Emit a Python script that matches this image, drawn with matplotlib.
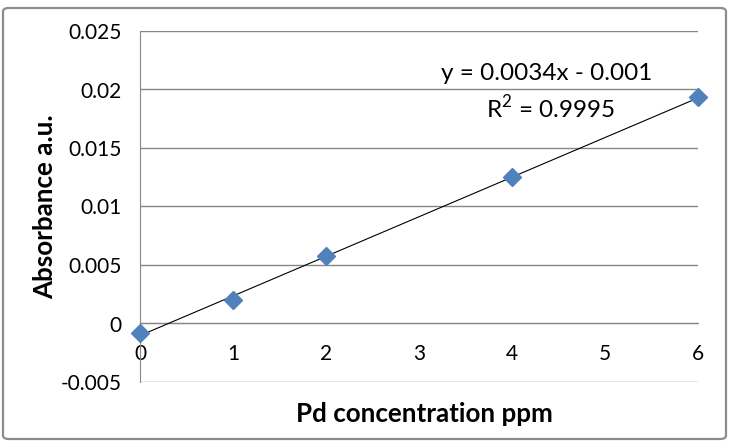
import matplotlib
matplotlib.use("Agg")
import matplotlib.pyplot as plt
from matplotlib.patches import FancyBboxPatch
import numpy as np

conc = [0, 1, 2, 4, 6]
absorb = [-0.00077, 0.00205, 0.00573, 0.0125, 0.01934]
y_ticks = [-0.005, 0, 0.005, 0.01, 0.015, 0.02, 0.025]
y_tick_labels = ["-0.005", "0", "0.005", "0.01", "0.015", "0.02", "0.025"]
x_ticks = [0, 1, 2, 3, 4, 5, 6]
eq_text = "y = 0.0034x - 0.001"
r2_text = "R$^2$ = 0.9995"

plt.rcParams['font.family'] = ['Lato', 'DejaVu Sans']
plt.rcParams['mathtext.fontset'] = 'custom'
plt.rcParams['mathtext.rm'] = 'Lato'

fig = plt.figure(figsize=(7.3, 4.48), dpi=100)
border = FancyBboxPatch((3/730, 9/448), 723/730, 431/448,
                        boxstyle="round,pad=0,rounding_size=0.008",
                        transform=fig.transFigure, fill=False,
                        edgecolor="#8c8c8c", linewidth=1.6)
fig.patches.append(border)

ax = fig.add_axes([140/730, 1 - 382/448, 558/730, 351/448])
ax.set_xlim(0, 6)
ax.set_ylim(-0.005, 0.025)
ax.set_yticks(y_ticks)
ax.set_yticklabels(y_tick_labels)
ax.set_xticks(x_ticks)
ax.set_xticklabels([str(v) for v in x_ticks])
ax.yaxis.grid(True, color="#868686", linewidth=1)
ax.set_axisbelow(True)
for s in ["top", "right"]:
    ax.spines[s].set_visible(False)
ax.spines["left"].set_color("#868686")
ax.spines["bottom"].set_position(("data", 0))
ax.spines["bottom"].set_color("#868686")
ax.tick_params(axis="both", length=0, labelsize=15, colors="black")
ax.tick_params(axis="y", pad=13)
ax.tick_params(axis="x", pad=15)

coef = np.polyfit(conc, absorb, 1)
xx = np.array([0, 6])
ax.plot(xx, np.polyval(coef, xx), color="black", linewidth=0.8, zorder=3)
ax.plot(conc, absorb, linestyle="none", marker="D", markersize=9.5,
        color="#4F81BD", markeredgecolor="#4F81BD", zorder=4, clip_on=False)

fig.text(547/730, 1 - 74/448, eq_text, ha="center", va="center", fontsize=17.5)
fig.text(550/730, 1 - 108/448, r2_text, ha="center", va="center", fontsize=17.5)

fig.text(424/730, 1 - 414/448, "Pd concentration ppm", ha="center", va="center",
         fontsize=18.7, fontweight="bold")
fig.text(45/730, 1 - 207/448, "Absorbance a.u.", ha="center", va="center",
         fontsize=18.7, fontweight="bold", rotation=90)

fig.savefig("out.png", dpi=100)
